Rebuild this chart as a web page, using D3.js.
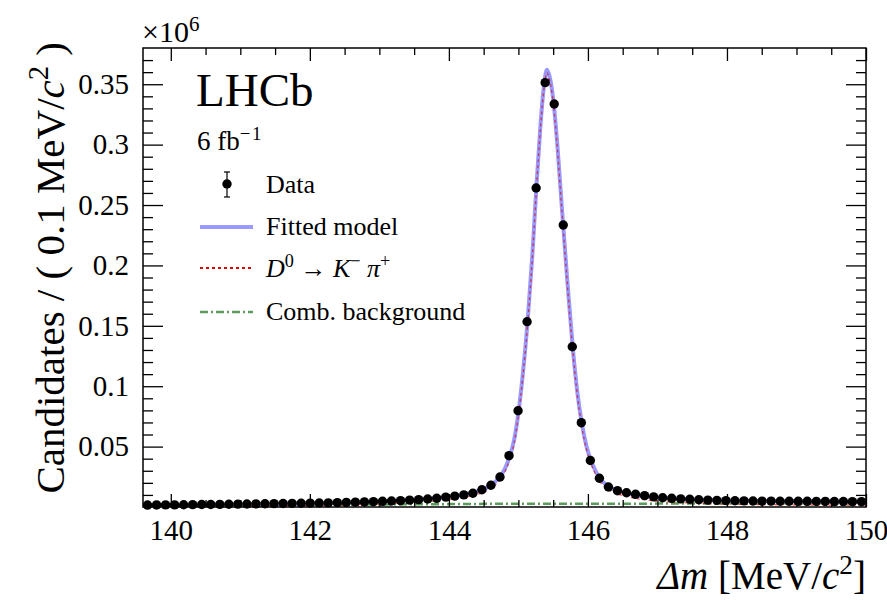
<!DOCTYPE html>
<html>
<head>
<meta charset="utf-8">
<script src="https://cdn.jsdelivr.net/npm/d3@7"></script>
<style>
	body { margin: 0; background: #fff; }
	svg text { font-family: "Liberation Serif", "Times New Roman", Tinos, "DejaVu Serif", serif; }
</style>
</head>
<body>
<div id="chart"></div>
<script>
//Bin centres of the delta m histogram (0.13 wide bins from 139.6 to 150)
var binCentres = [139.665,139.795,139.925,140.055,140.185,140.315,140.445,140.575,140.705,140.835,
	140.965,141.095,141.225,141.355,141.485,141.615,141.745,141.875,142.005,142.135,
	142.265,142.395,142.525,142.655,142.785,142.915,143.045,143.175,143.305,143.435,
	143.565,143.695,143.825,143.955,144.085,144.215,144.345,144.475,144.605,144.735,
	144.865,144.995,145.125,145.255,145.385,145.515,145.645,145.775,145.905,146.035,
	146.165,146.295,146.425,146.555,146.685,146.815,146.945,147.075,147.205,147.335,
	147.465,147.595,147.725,147.855,147.985,148.115,148.245,148.375,148.505,148.635,
	148.765,148.895,149.025,149.155,149.285,149.415,149.545,149.675,149.805,149.935];

//Candidates per bin, in units of 10^6
var dataValues = [0.0016,0.0017,0.0018,0.0018,0.0019,0.0020,0.0021,0.0021,0.0022,0.0023,
	0.0024,0.0025,0.0026,0.0027,0.0028,0.0029,0.0030,0.0031,0.0032,0.0033,
	0.0034,0.0036,0.0038,0.0040,0.0042,0.0044,0.0047,0.0050,0.0053,0.0057,
	0.0061,0.0066,0.0072,0.0082,0.0090,0.0100,0.0114,0.0143,0.0180,0.0248,
	0.0425,0.0797,0.1534,0.2641,0.3513,0.3336,0.2335,0.1327,0.0698,0.0385,
	0.0238,0.0166,0.0135,0.0118,0.0105,0.0094,0.0084,0.0077,0.0072,0.0067,
	0.0064,0.0060,0.0057,0.0055,0.0053,0.0052,0.0051,0.0050,0.0049,0.0049,
	0.0048,0.0048,0.0047,0.0047,0.0046,0.0046,0.0045,0.0045,0.0044,0.0044];

//Points
var modelX = [139.6,140,140.5,141,141.5,142,142.5,143,143.5,143.8,
	144.0,144.2,144.35,144.5,144.6,144.7,144.8,144.87,144.94,145.0,
	145.06,145.13,145.2,145.26,145.32,145.37,145.41,145.45,145.5,145.56,
	145.62,145.7,145.78,145.85,145.91,145.98,146.04,146.1,146.17,146.3,
	146.43,146.6,146.8,147.0,147.3,147.6,148.0,148.5,149.0,149.5,150.0];

var fitValues = [0.0015,0.0017,0.0020,0.0023,0.0027,0.0031,0.0037,0.0046,0.0060,0.0073,
	0.0085,0.0102,0.0120,0.0148,0.0178,0.0228,0.0310,0.0410,0.0560,0.0780,
	0.1080,0.1520,0.2080,0.2660,0.3180,0.3500,0.3620,0.3560,0.3380,0.3000,
	0.2520,0.1900,0.1330,0.0940,0.0700,0.0500,0.0390,0.0310,0.0240,0.0168,
	0.0135,0.0108,0.0088,0.0076,0.0066,0.0059,0.0053,0.0050,0.0047,0.0045,0.0044];

var signalValues = [0.0015,0.0011,0.0010,0.0010,0.0012,0.0014,0.0018,0.0025,0.0038,0.0050,
	0.0061,0.0077,0.0095,0.0122,0.0152,0.0202,0.0284,0.0384,0.0534,0.0754,
	0.1054,0.1494,0.2054,0.2634,0.3154,0.3474,0.3594,0.3534,0.3354,0.2974,
	0.2494,0.1874,0.1304,0.0914,0.0674,0.0474,0.0364,0.0284,0.0213,0.0141,
	0.0108,0.0081,0.0061,0.0048,0.0038,0.0030,0.0023,0.0020,0.0016,0.0014,0.0012];

var backgroundValues = [0.0000,0.0006,0.0010,0.0013,0.0015,0.0017,0.0019,0.0021,0.0022,0.0023,
	0.0024,0.0025,0.0025,0.0026,0.0026,0.0026,0.0026,0.0026,0.0026,0.0026,
	0.0026,0.0026,0.0026,0.0026,0.0026,0.0026,0.0026,0.0026,0.0026,0.0026,
	0.0026,0.0026,0.0026,0.0026,0.0026,0.0026,0.0026,0.0026,0.0027,0.0027,
	0.0027,0.0027,0.0027,0.0028,0.0028,0.0029,0.0030,0.0030,0.0031,0.0031,0.0032];

//Tick values and labels
var xMajorTicks = [140, 142, 144, 146, 148, 150];
var xMinorTicks = [140.5, 141, 141.5, 142.5, 143, 143.5, 144.5, 145, 145.5, 146.5, 147, 147.5, 148.5, 149, 149.5];
var yMajorTicks = [0.05, 0.1, 0.15, 0.2, 0.25, 0.3, 0.35];
var yTickLabels = ["0.05", "0.1", "0.15", "0.2", "0.25", "0.3", "0.35"];
var yMinorTicks = [0.01,0.02,0.03,0.04,0.06,0.07,0.08,0.09,0.11,0.12,0.13,0.14,0.16,0.17,0.18,0.19,
	0.21,0.22,0.23,0.24,0.26,0.27,0.28,0.29,0.31,0.32,0.33,0.34,0.36,0.37];

var serifFont = "'Liberation Serif', 'Times New Roman', Tinos, 'DejaVu Serif', serif";

//Margins so the frame lands where it is in the figure
var margin = {top: 48, right: 21, bottom: 93, left: 143},
	width = 887 - margin.left - margin.right,
	height = 600 - margin.top - margin.bottom;

var svgRoot = d3.select("#chart")
	.append("svg")
	.attr("width", 887)
	.attr("height", 600)
	.attr("font-family", serifFont);

var svg = svgRoot.append("g")
	.attr("transform", "translate(" + margin.left + "," + margin.top + ")");

var x = d3.scaleLinear()
	.domain([139.6, 150])
	.range([0, width]);

var y = d3.scaleLinear()
	.domain([0, 0.38])
	.range([height, 0]);

//Clip so curves stay inside the frame
svg.append("clipPath")
	.attr("id", "plotClip")
	.append("rect")
	.attr("width", width)
	.attr("height", height);

var plotArea = svg.append("g").attr("clip-path", "url(#plotClip)");

var fitLine = d3.line()
	.x(function(d, i){ return x(modelX[i]); })
	.y(function(d){ return y(d); })
	.curve(d3.curveMonotoneX);

//Combinatorial background
plotArea.append("path")
	.datum(backgroundValues)
	.attr("fill", "none")
	.attr("stroke", "#5b9b5b")
	.attr("stroke-width", 2.5)
	.attr("stroke-dasharray", "8,3,2,3")
	.attr("d", fitLine);

//Full fitted model
plotArea.append("path")
	.datum(fitValues)
	.attr("fill", "none")
	.attr("stroke", "#9999ff")
	.attr("stroke-width", 4)
	.attr("d", fitLine);

//Signal component, thin so it shows through the model line
plotArea.append("path")
	.datum(signalValues)
	.attr("fill", "none")
	.attr("stroke", "#dd0000")
	.attr("stroke-opacity", 0.6)
	.attr("stroke-width", 1.4)
	.attr("stroke-dasharray", "3,3")
	.attr("d", fitLine);

//Data points
svg.selectAll(".dataDot")
	.data(dataValues)
	.enter()
	.append("circle")
	.attr("class", "dataDot")
	.attr("cx", function(d, i){ return x(binCentres[i]); })
	.attr("cy", function(d){ return y(d); })
	.attr("r", 4.7)
	.attr("fill", "black");

//Axes, all ticks pointing inwards
function styleAxis(g)
{
	g.attr("font-family", serifFont);
	g.select(".domain").remove();
	g.selectAll("line").attr("stroke", "black").attr("stroke-width", 1.3);
	g.selectAll("text")
		.style("font-size", "29px")
		.attr("fill", "black");
}

svg.append("g")
	.attr("transform", "translate(0," + height + ")")
	.call(d3.axisBottom(x).tickValues(xMajorTicks).tickSize(-13).tickPadding(12).tickFormat(d3.format("d")))
	.call(styleAxis);

svg.append("g")
	.attr("transform", "translate(0," + height + ")")
	.call(d3.axisBottom(x).tickValues(xMinorTicks).tickSize(-7).tickFormat(""))
	.call(styleAxis);

svg.append("g")
	.call(d3.axisTop(x).tickValues(xMajorTicks).tickSize(-13).tickFormat(""))
	.call(styleAxis);

svg.append("g")
	.call(d3.axisTop(x).tickValues(xMinorTicks).tickSize(-7).tickFormat(""))
	.call(styleAxis);

svg.append("g")
	.call(d3.axisLeft(y).tickValues(yMajorTicks).tickSize(-20).tickPadding(14)
		.tickFormat(function(d, i){ return yTickLabels[i]; }))
	.call(styleAxis);

svg.append("g")
	.call(d3.axisLeft(y).tickValues(yMinorTicks).tickSize(-10).tickFormat(""))
	.call(styleAxis);

svg.append("g")
	.attr("transform", "translate(" + width + ",0)")
	.call(d3.axisRight(y).tickValues(yMajorTicks).tickSize(-20).tickFormat(""))
	.call(styleAxis);

svg.append("g")
	.attr("transform", "translate(" + width + ",0)")
	.call(d3.axisRight(y).tickValues(yMinorTicks).tickSize(-10).tickFormat(""))
	.call(styleAxis);

//Frame
svg.append("rect")
	.attr("width", width)
	.attr("height", height)
	.attr("fill", "none")
	.attr("stroke", "black")
	.attr("stroke-width", 1.5);

//Writes a text made of pieces (italic / superscript)
function richText(parent, pieces, size)
{
	var up = false;
	pieces.forEach(function(p)
	{
		var span = parent.append("tspan").text(p.t);
		if(p.it) span.style("font-style", "italic");
		if(p.sup && !up)
		{
			span.attr("dy", -0.38 * size).style("font-size", (size * 0.7) + "px");
			up = true;
		}
		else if(p.sup)
		{
			span.style("font-size", (size * 0.7) + "px");
		}
		else if(up)
		{
			span.attr("dy", 0.38 * size);
			up = false;
		}
	});
}

//Axis titles
var xTitle = svgRoot.append("text")
	.attr("x", 866)
	.attr("y", 589)
	.attr("text-anchor", "end")
	.style("font-size", "39px");
richText(xTitle, [{t: "\u0394m", it: true}, {t: " [MeV/"}, {t: "c", it: true}, {t: "2", sup: true}, {t: "]"}], 39);

var yTitle = svgRoot.append("text")
	.attr("transform", "translate(64,42) rotate(-90)")
	.attr("text-anchor", "end")
	.style("font-size", "41px");
richText(yTitle, [{t: "Candidates / ( 0.1 MeV/"}, {t: "c", it: true}, {t: "2", sup: true}, {t: " )"}], 41);

//Exponent label
var expLabel = svgRoot.append("text")
	.attr("x", 142)
	.attr("y", 42)
	.style("font-size", "30px");
richText(expLabel, [{t: "\u00d710"}, {t: "6", sup: true}], 30);

//LHCb label and luminosity
svgRoot.append("text")
	.attr("x", 196)
	.attr("y", 106)
	.style("font-size", "47px")
	.text("LHCb");

var lumi = svgRoot.append("text")
	.attr("x", 197)
	.attr("y", 150)
	.style("font-size", "27px");
richText(lumi, [{t: "6 fb"}, {t: "\u2212\u200a1", sup: true}], 27);

//Legend
var legendFont = 26;
var legend = svgRoot.append("g");

legend.append("line")
	.attr("x1", 227).attr("x2", 227)
	.attr("y1", 172).attr("y2", 197)
	.attr("stroke", "black").attr("stroke-width", 1.2);
legend.append("line")
	.attr("x1", 224).attr("x2", 230)
	.attr("y1", 172).attr("y2", 172)
	.attr("stroke", "black").attr("stroke-width", 1.2);
legend.append("line")
	.attr("x1", 224).attr("x2", 230)
	.attr("y1", 197).attr("y2", 197)
	.attr("stroke", "black").attr("stroke-width", 1.2);
legend.append("circle")
	.attr("cx", 227).attr("cy", 184).attr("r", 4.7)
	.attr("fill", "black");
legend.append("text")
	.attr("x", 266).attr("y", 193)
	.style("font-size", legendFont + "px")
	.text("Data");

legend.append("line")
	.attr("x1", 200).attr("x2", 253)
	.attr("y1", 227).attr("y2", 227)
	.attr("stroke", "#9999ff").attr("stroke-width", 4);
legend.append("text")
	.attr("x", 266).attr("y", 235)
	.style("font-size", legendFont + "px")
	.text("Fitted model");

legend.append("line")
	.attr("x1", 200).attr("x2", 253)
	.attr("y1", 268).attr("y2", 268)
	.attr("stroke", "#dd0000").attr("stroke-width", 2.2)
	.attr("stroke-dasharray", "3,3");
var sigLabel = legend.append("text")
	.attr("x", 266).attr("y", 277)
	.style("font-size", legendFont + "px");
richText(sigLabel, [{t: "D", it: true}, {t: "0", sup: true}, {t: " \u2192 "}, {t: "K", it: true},
	{t: "\u2212", sup: true}, {t: " "}, {t: "\u03c0", it: true}, {t: "+", sup: true}], legendFont);

legend.append("line")
	.attr("x1", 200).attr("x2", 253)
	.attr("y1", 312).attr("y2", 312)
	.attr("stroke", "#5b9b5b").attr("stroke-width", 2.5)
	.attr("stroke-dasharray", "8,3,2,3");
legend.append("text")
	.attr("x", 266).attr("y", 320)
	.style("font-size", legendFont + "px")
	.text("Comb. background");
</script>
</body>
</html>
